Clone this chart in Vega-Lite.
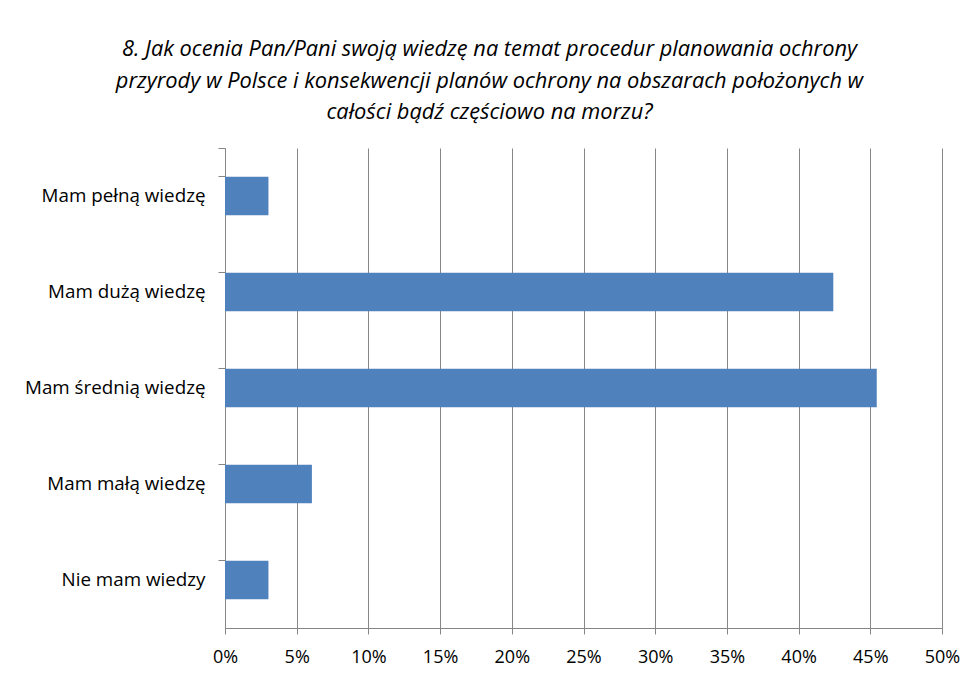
{
  "$schema": "https://vega.github.io/schema/vega-lite/v6.json",
  "autosize": "none",
  "width": 717,
  "height": 480,
  "padding": {"left": 225, "top": 148, "right": 35, "bottom": 54},
  "background": "white",
  "title": {
    "text": ["8. Jak ocenia Pan/Pani swoją wiedzę na temat procedur planowania ochrony", "przyrody w Polsce i konsekwencji planów ochrony na obszarach położonych w", "całości bądź częściowo na morzu?"],
    "font": "Open Sans",
    "fontStyle": "italic",
    "fontWeight": "normal",
    "fontSize": 21.8,
    "lineHeight": 31.5,
    "color": "#000000",
    "anchor": "middle",
    "frame": "group",
    "dx": -94,
    "offset": 15
  },
  "data": {
    "values": [
      {"kategoria": "Mam pełną wiedzę", "procent": 0.0303},
      {"kategoria": "Mam dużą wiedzę", "procent": 0.4242},
      {"kategoria": "Mam średnią wiedzę", "procent": 0.4545},
      {"kategoria": "Mam małą wiedzę", "procent": 0.0606},
      {"kategoria": "Nie mam wiedzy", "procent": 0.0303}
    ]
  },
  "mark": {"type": "bar", "color": "#4F81BD"},
  "encoding": {
    "y": {
      "field": "kategoria",
      "type": "nominal",
      "sort": null,
      "title": null,
      "scale": {"paddingInner": 0.6, "paddingOuter": 0.3},
      "axis": {
        "bandPosition": 0,
        "tickExtra": true,
        "ticks": true,
        "tickSize": 7,
        "tickColor": "#868686",
        "domainColor": "#868686",
        "labelPadding": 13,
        "labelLimit": 300,
        "labelFont": "Open Sans",
        "labelFontSize": 18.8,
        "labelColor": "#000000",
        "grid": false
      }
    },
    "x": {
      "field": "procent",
      "type": "quantitative",
      "title": null,
      "scale": {"domain": [0, 0.5], "nice": false},
      "axis": {
        "format": ".0%",
        "values": [0, 0.05, 0.1, 0.15, 0.2, 0.25, 0.3, 0.35, 0.4, 0.45, 0.5],
        "grid": true,
        "gridColor": "#868686",
        "gridOpacity": 1,
        "tickColor": "#868686",
        "tickSize": 6,
        "domainColor": "#868686",
        "labelFont": "Open Sans",
        "labelFontSize": 18,
        "labelColor": "#000000",
        "labelPadding": 14,
        "labelFlush": false
      }
    }
  },
  "config": {"view": {"stroke": null}}
}
